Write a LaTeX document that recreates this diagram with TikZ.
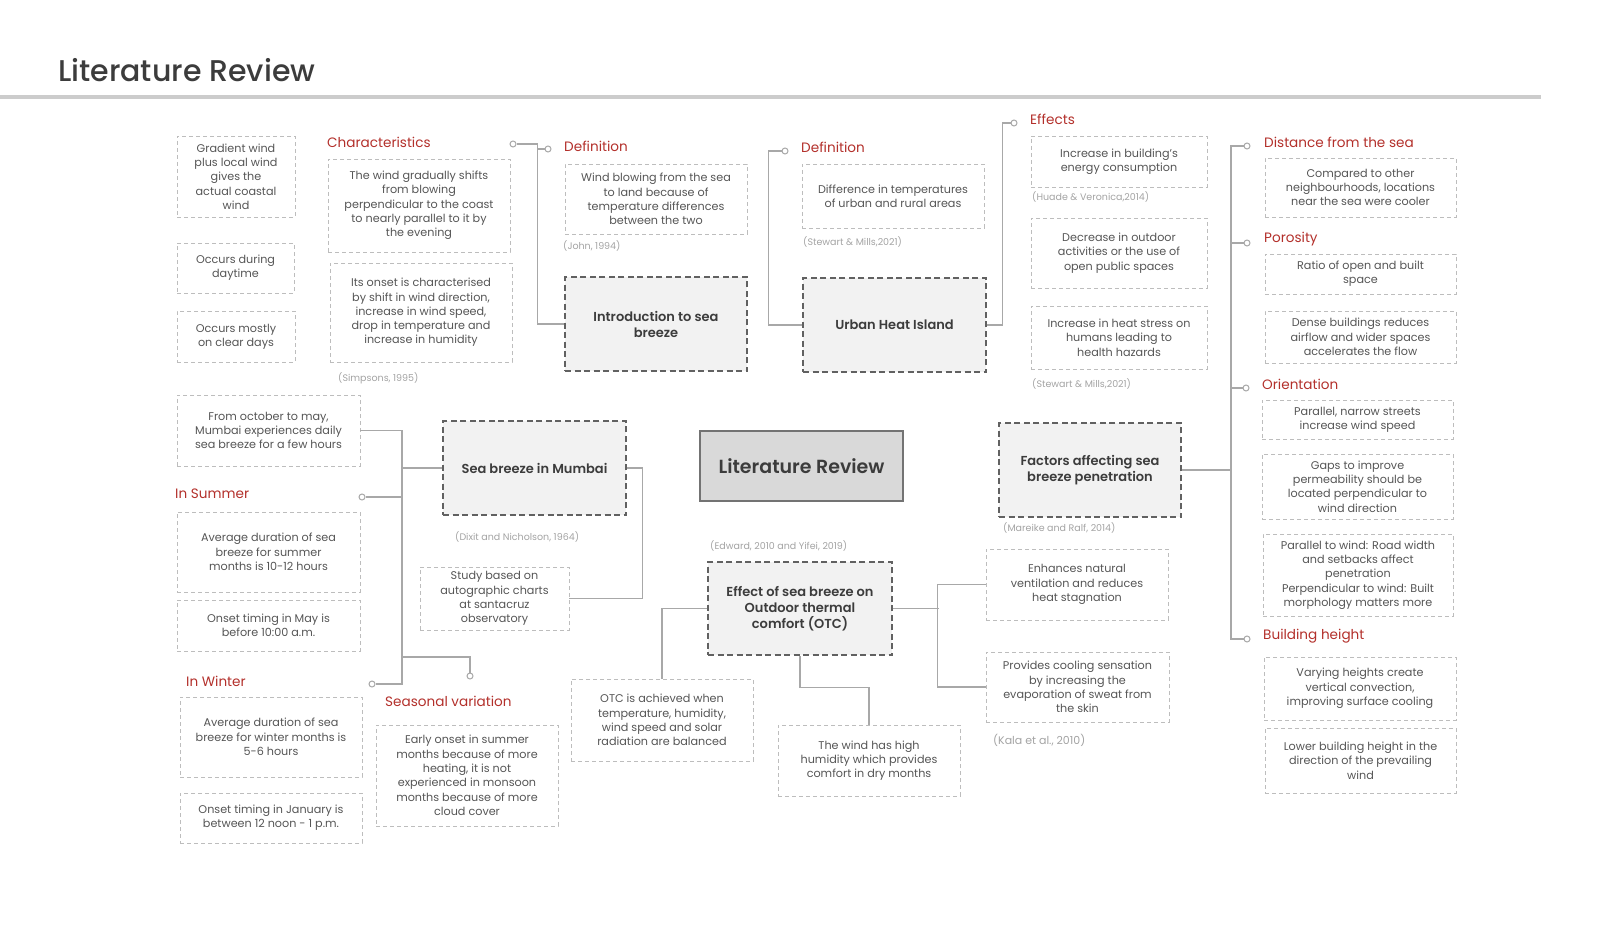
\documentclass[tikz,border=0pt]{standalone}
\usepackage{fontspec}
\setmainfont{Poppins}[BoldFont={Poppins SemiBold}]
\newfontfamily\titlefont{Poppins Medium}

\definecolor{filo}{HTML}{A8A8A8}
\definecolor{bordo}{HTML}{BDBDBD}
\definecolor{testo}{HTML}{555555}
\definecolor{scuro}{HTML}{3C3C3C}
\definecolor{rosso}{HTML}{B3302B}
\definecolor{citaz}{HTML}{A3A3A3}
\definecolor{fondo}{HTML}{F2F2F2}
\definecolor{centro}{HTML}{D9D9D9}

\tikzset{
  foglia/.style={draw=bordo, line width=0.9pt, dash pattern=on 4pt off 3pt, text=testo,
    align=center, inner sep=2pt, font=\fontsize{11.2}{14.3}\selectfont},
  misura/.style 2 args={minimum width=#1, minimum height=#2},
  tema/.style={draw=black!62, fill=fondo, line width=1.2pt, dash pattern=on 6pt off 3.5pt,
    text=scuro, align=center, font=\bfseries\fontsize{13}{16}\selectfont,
    minimum width=182pt, minimum height=94pt},
  titoletto/.style={anchor=west, text=rosso, inner sep=0pt, font=\fontsize{13.6}{16}\selectfont},
  fonte/.style={anchor=west, text=citaz, inner sep=0pt, font=\fontsize{9.5}{11}\selectfont},
  collega/.style={draw=filo, line width=1.1pt},
  pallino/.style={circle, draw=filo, fill=white, line width=1pt, inner sep=0pt, minimum size=6pt},
}

\begin{document}
\begin{tikzpicture}[x=1pt,y=-1pt]
    \useasboundingbox (0,0) rectangle (1600,933);

    % titolo
    \node[anchor=base west, text=scuro, inner sep=0pt, font=\titlefont\fontsize{30}{34}\selectfont] (titolo) at (58,82) {Literature Review};
    \draw[draw=black!20, line width=3.5pt] (0,97) -- (1541,97);

    % nodo centrale
    \node[draw=black!55, fill=centro, line width=1.2pt, text=scuro, font=\bfseries\fontsize{19}{22}\selectfont,
          minimum width=203pt, minimum height=70pt] (lit) at (801.5,466) {Literature Review};

    % introduzione
    \node[tema] (intro) at (656,324) {Introduction to sea\\breeze};
    \node[titoletto] (defA) at (564,146) {Definition};
    \node[foglia, misura={182pt}{70pt}] (vento) at (656,199) {Wind blowing from the sea\\to land because of\\temperature differences\\between the two};
    \node[fonte] (john) at (563,246) {(John, 1994)};
    \node[titoletto] (caratt) at (327,142) {Characteristics};
    \node[foglia, misura={182pt}{93pt}] (sposta) at (419,205.5) {The wind gradually shifts\\from blowing\\perpendicular to the coast\\to nearly parallel to it by\\the evening};
    \node[foglia, misura={182pt}{99pt}] (inizio) at (421,312.5) {Its onset is characterised\\by shift in wind direction,\\increase in wind speed,\\drop in temperature and\\increase in humidity};
    \node[fonte] (simpson) at (338,378) {(Simpsons, 1995)};
    \node[foglia, misura={118pt}{81pt}] (gradiente) at (236,176.5) {Gradient wind\\plus local wind\\gives the\\actual coastal\\wind};
    \node[foglia, misura={117pt}{50pt}] (giorno) at (235.5,268) {Occurs during\\daytime};
    \node[foglia, misura={118pt}{51pt}] (sereno) at (236,336.5) {Occurs mostly\\on clear days};
    \node[pallino] (pA) at (513,144) {};
    \node[pallino] (pB) at (548,149) {};
    \draw[collega] (intro.west) -- ++(-27,0) |- (pA);
    \draw[collega] (pB) -- ++(-10,0);

    % isola di calore
    \node[tema, minimum width=183pt] (uhi) at (894.5,325) {Urban Heat Island};
    \node[titoletto] (defB) at (801,147) {Definition};
    \node[foglia, misura={182pt}{64pt}] (diff) at (893,196) {Difference in temperatures\\of urban and rural areas};
    \node[fonte] (stewA) at (803,242) {(Stewart \& Mills,2021)};
    \node[pallino] (pC) at (785,151) {};
    \draw[collega] (uhi.west) -- ++(-34,0) |- (pC);
    \node[titoletto] (effetti) at (1030,119) {Effects};
    \node[pallino] (pD) at (1014,123) {};
    \draw[collega] (uhi.east) -- ++(16,0) |- (pD);
    \node[foglia, misura={176pt}{51pt}] (energia) at (1119,161.5) {Increase in building’s\\energy consumption};
    \node[fonte] (huade) at (1032,197) {(Huade \& Veronica,2014)};
    \node[foglia, misura={176pt}{70pt}] (aperto) at (1119,253) {Decrease in outdoor\\activities or the use of\\open public spaces};
    \node[foglia, misura={176pt}{63pt}] (stress) at (1119,337.5) {Increase in heat stress on\\humans leading to\\health hazards};
    \node[fonte] (stewB) at (1032,384) {(Stewart \& Mills,2021)};

    % fattori
    \node[tema] (fattori) at (1090,470) {Factors affecting sea\\breeze penetration};
    \node[fonte] (mareike) at (1003,528) {(Mareike and Ralf, 2014)};
    \coordinate (busA) at (1231,146);
    \coordinate (busB) at (1231,639);
    \node[pallino] (pE) at (1247,146) {};
    \node[pallino] (pF) at (1247,243) {};
    \node[pallino] (pG) at (1246,388) {};
    \node[pallino] (pH) at (1247,639) {};
    \draw[collega] (pE) -- (busA) -- (busB) -- (pH);
    \draw[collega] (pF) -- (pF -| busA);
    \draw[collega] (pG) -- (pG -| busA);
    \draw[collega] (fattori.east) -- (fattori.east -| busA);
    \node[titoletto] (distanza) at (1264,142) {Distance from the sea};
    \node[foglia, misura={191pt}{59pt}] (vicino) at (1360.5,187.5) {Compared to other\\neighbourhoods, locations\\near the sea were cooler};
    \node[titoletto] (poros) at (1264,239) {Porosity};
    \node[foglia, misura={191pt}{40pt}] (rapporto) at (1360.5,274) {Ratio of open and built\\space};
    \node[foglia, misura={191pt}{52pt}] (denso) at (1360.5,337) {Dense buildings reduces\\airflow and wider spaces\\accelerates the flow};
    \node[titoletto] (orient) at (1262,384) {Orientation};
    \node[foglia, misura={191pt}{39pt}] (strade) at (1357.5,419.5) {Parallel, narrow streets\\increase wind speed};
    \node[foglia, misura={191pt}{65pt}] (varchi) at (1357.5,486.5) {Gaps to improve\\permeability should be\\located perpendicular to\\wind direction};
    \node[foglia, misura={190pt}{82pt}] (parallelo) at (1358,575) {Parallel to wind: Road width\\and setbacks affect\\penetration\\Perpendicular to wind: Built\\morphology matters more};
    \node[titoletto] (altezza) at (1263,636) {Building height};
    \node[foglia, misura={192pt}{63pt}] (varie) at (1360,688.5) {Varying heights create\\vertical convection,\\improving surface cooling};
    \node[foglia, misura={191pt}{65pt}] (basse) at (1360.5,760.5) {Lower building height in the\\direction of the prevailing\\wind};

    % mumbai
    \node[tema, minimum width=183pt] (mumbai) at (534.5,468) {Sea breeze in Mumbai};
    \node[fonte] (dixit) at (455,537) {(Dixit and Nicholson, 1964)};
    \node[foglia, misura={149pt}{63pt}] (studio) at (494.5,598.5) {Study based on\\autographic charts\\at santacruz\\observatory};
    \draw[collega] (mumbai.east) -- ++(16,0) |- (studio.east);
    \node[foglia, misura={183pt}{71pt}] (ottobre) at (268.5,430.5) {From october to may,\\Mumbai experiences daily\\sea breeze for a few hours};
    \node[titoletto] (estate) at (175,494) {In Summer};
    \node[foglia, misura={183pt}{80pt}] (durataE) at (268.5,552) {Average duration of sea\\breeze for summer\\months is 10-12 hours};
    \node[foglia, misura={183pt}{51pt}] (maggio) at (268.5,625.5) {Onset timing in May is\\before 10:00 a.m.};
    \node[titoletto] (inverno) at (186,681) {In Winter};
    \node[foglia, misura={182pt}{80pt}] (durataI) at (271,737) {Average duration of sea\\breeze for winter months is\\5-6 hours};
    \node[foglia, misura={182pt}{50pt}] (gennaio) at (271,818) {Onset timing in January is\\between 12 noon - 1 p.m.};
    \node[titoletto] (stagioni) at (385,701) {Seasonal variation};
    \node[foglia, misura={182pt}{101pt}] (anticipo) at (467,775.5) {Early onset in summer\\months because of more\\heating, it is not\\experienced in monsoon\\months because of more\\cloud cover};
    \coordinate (busC) at (402,684);
    \coordinate (busD) at (402,657);
    \node[pallino] (pI) at (362,497) {};
    \node[pallino] (pJ) at (372,684) {};
    \node[pallino] (pK) at (470,676) {};
    \draw[collega] (ottobre.east) -| (busC) -- (pJ);
    \draw[collega] (mumbai.west) -- (mumbai.west -| busC);
    \draw[collega] (pI) -- (pI -| busC);
    \draw[collega] (busD) -| (pK);

    % comfort
    \node[tema, minimum width=184pt, minimum height=93pt] (otc) at (800,608.5) {Effect of sea breeze on\\Outdoor thermal\\comfort (OTC)};
    \node[fonte] (edward) at (710,546) {(Edward, 2010 and Yifei, 2019)};
    \node[foglia, misura={182pt}{82pt}] (raggiunto) at (662,720) {OTC is achieved when\\temperature, humidity,\\wind speed and solar\\radiation are balanced};
    \node[foglia, misura={182pt}{71pt}] (umido) at (869,760.5) {The wind has high\\humidity which provides\\comfort in dry months};
    \node[foglia, misura={182pt}{71pt}] (ventila) at (1077,584.5) {Enhances natural\\ventilation and reduces\\heat stagnation};
    \node[foglia, misura={183pt}{70pt}] (fresco) at (1077.5,687) {Provides cooling sensation\\by increasing the\\evaporation of sweat from\\the skin};
    \node[fonte, font=\fontsize{11}{13}\selectfont] (kala) at (993,740) {(Kala et al., 2010)};
    \draw[collega] (otc.west) -| (raggiunto.north);
    \draw[collega] (otc.south) -- ++(0,32) -| (umido.north);
    \draw[collega] (otc.east) -- ++(46,0);
    \draw[collega] (ventila.west) -- ++(-48,0) |- (fresco.west);

\end{tikzpicture}
\end{document}
